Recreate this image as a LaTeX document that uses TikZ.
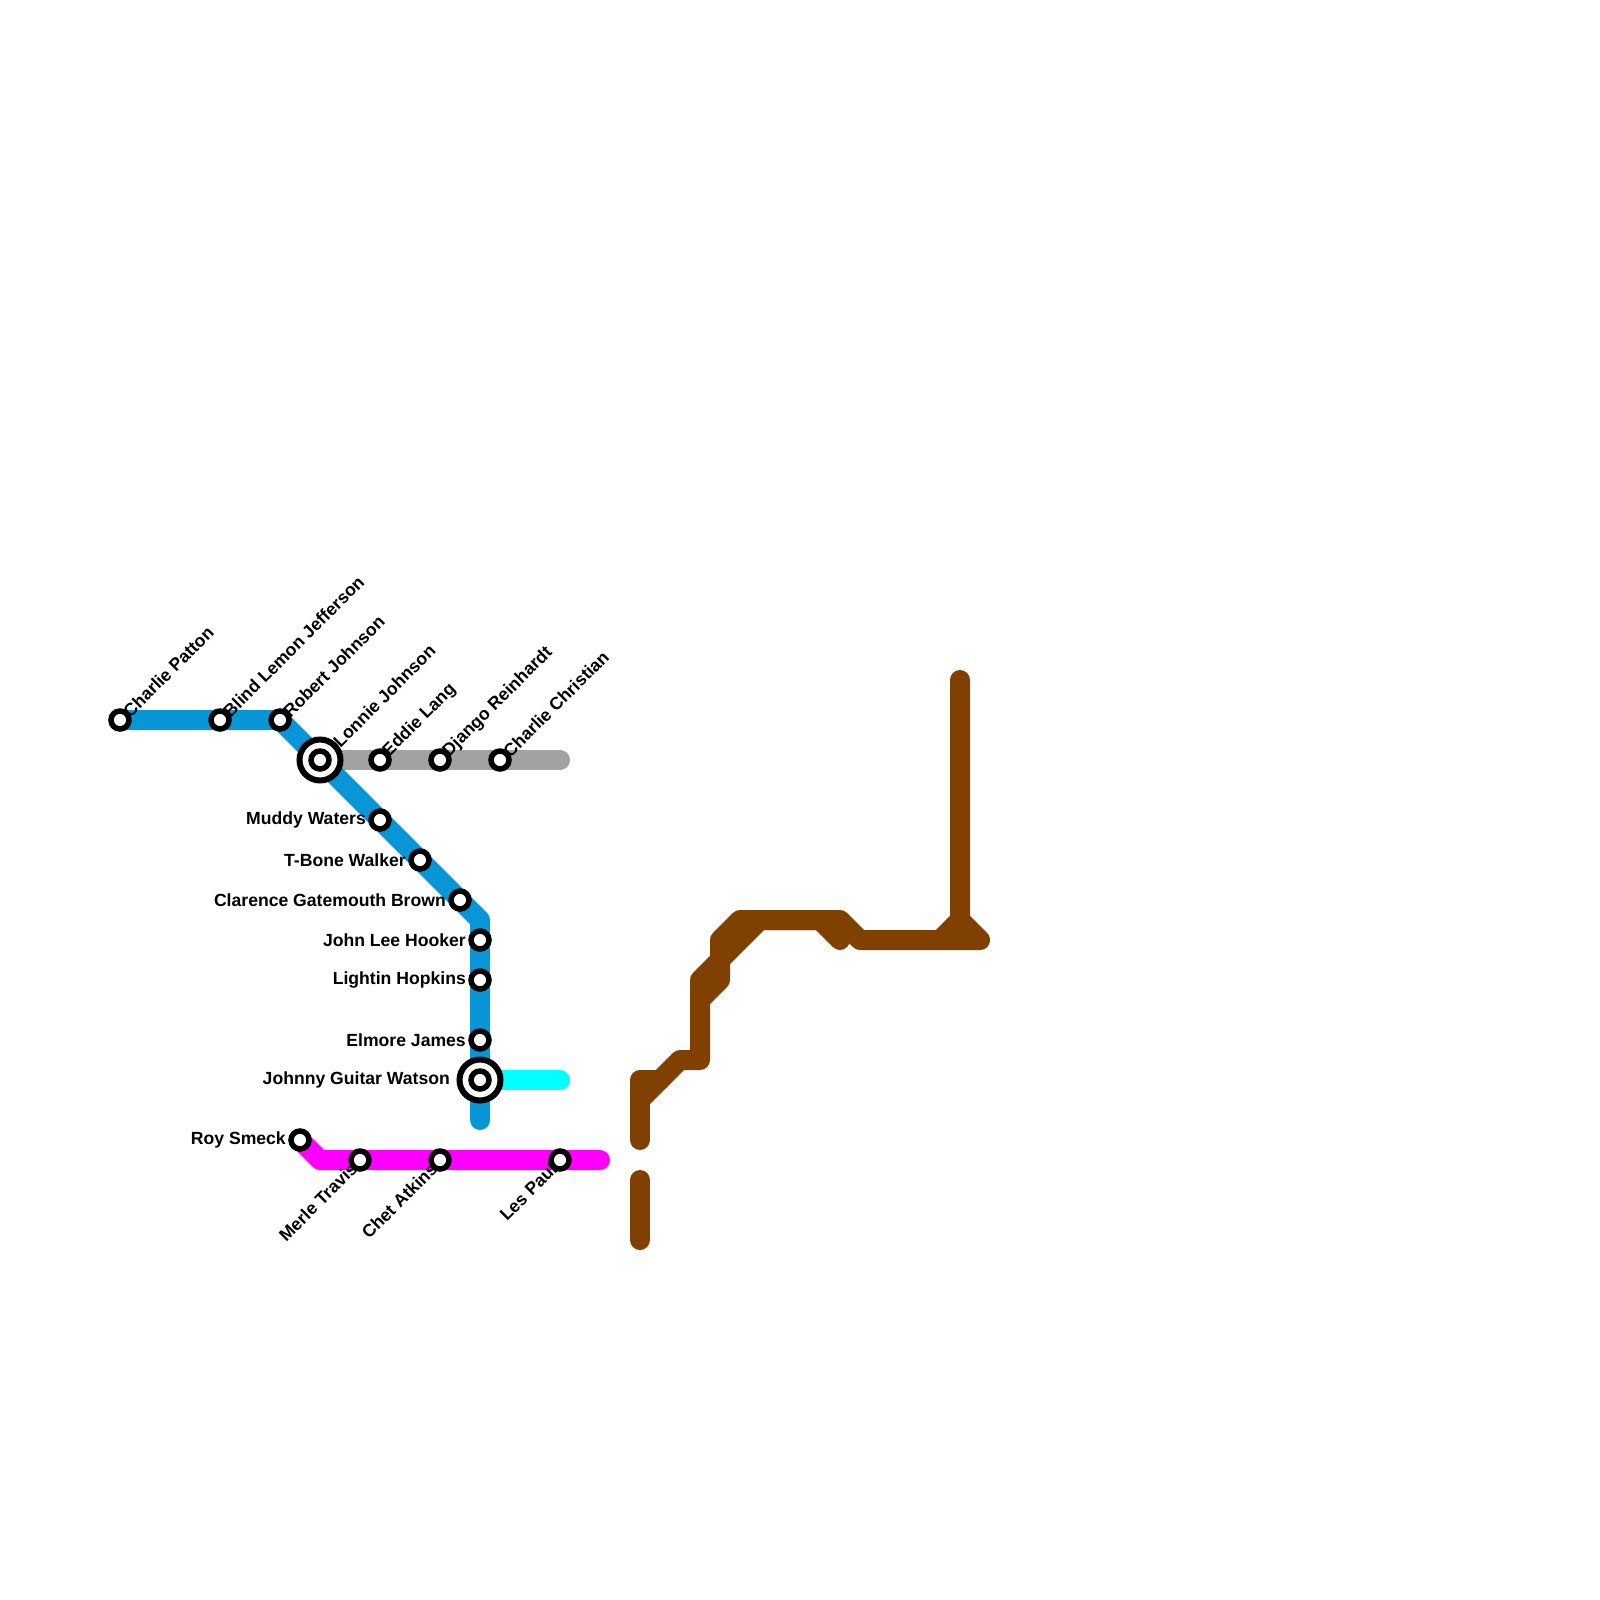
\documentclass[tikz,border=0pt]{standalone}
\usepackage{fontspec}
\setmainfont{Liberation Sans}
\usepackage{xcolor}
\definecolor{azulLine}{RGB}{8, 150, 215}
\definecolor{grisLine}{RGB}{162, 162, 162}
\definecolor{cianLine}{RGB}{0, 255, 255}
\definecolor{rosaLine}{RGB}{255, 0, 255}
\definecolor{cafeLine}{RGB}{128, 64, 0}
\usepackage{tikz}
\usetikzlibrary{positioning}
\tikzset{
  metro/.style={line width=20pt, line cap=round, line join=round},
  station/.style={circle, draw=black, fill=white, line width=5.5pt, minimum size=18pt, inner sep=0pt},
  hub/.style={circle, draw=black, fill=white, line width=6pt, minimum size=41pt, inner sep=0pt},
  tag/.style={font=\fontsize{17.6}{20}\selectfont\bfseries, inner sep=0pt, text=black}
}

\begin{document}
\begin{tikzpicture}[x=1pt, y=-1pt]
            \useasboundingbox (0,0) rectangle (1600,1600);

            % Estaciones
            \coordinate (blueBend) at (480,920);
            \coordinate (blueEnd) at (480,1120);
            \coordinate (grayEnd) at (560,760);
            \coordinate (cyanEnd) at (560,1080);
            \coordinate (pinkBend) at (320,1160);
            \coordinate (pinkEnd) at (600,1160);

            % Lineas
            \path (120,720) coordinate (patton) (220,720) coordinate (jefferson) (280,720) coordinate (robert)
                  (320,760) coordinate (lonnie) (480,1080) coordinate (watson) (300,1140) coordinate (smeck);
            \draw[metro, grisLine] (lonnie) -- (grayEnd);
            \draw[metro, cianLine] (watson) -- (cyanEnd);
            \draw[metro, azulLine] (patton) -- (robert) -- (blueBend) -- (blueEnd);
            \draw[metro, rosaLine] (smeck) -- (pinkBend) -- (pinkEnd);

            % Linea cafe
            \draw[metro, cafeLine] (640,1180) -- (640,1240);
            \draw[metro, cafeLine] (640,1140) -- (640,1080) -- (660,1080);
            \draw[metro, cafeLine] (640,1100) -- (680,1060) -- (700,1060) -- (700,980) -- (720,960) -- (720,940)
                  -- (740,920) -- (840,920) -- (860,940) -- (980,940) -- (960,920) -- (960,680);
            \draw[metro, cafeLine] (700,1000) -- (720,980) -- (720,960) -- (760,920) -- (820,920) -- (840,940);
            \draw[metro, cafeLine] (940,940) -- (960,920);

            % Nodos
            \node[station] (pattonSt) at (patton) {};
            \node[station] (jeffersonSt) at (jefferson) {};
            \node[station] (robertSt) at (robert) {};
            \node[hub] (lonnieHub) at (lonnie) {};
            \node[station] (lonnieSt) at (lonnie) {};
            \node[station] (eddie) at (380,760) {};
            \node[station] (django) at (440,760) {};
            \node[station] (christian) at (500,760) {};
            \node[station] (muddy) at (380,820) {};
            \node[station] (tbone) at (420,860) {};
            \node[station] (clarence) at (460,900) {};
            \node[station] (hooker) at (480,940) {};
            \node[station] (lightin) at (480,980) {};
            \node[station] (elmore) at (480,1040) {};
            \node[hub] (watsonHub) at (watson) {};
            \node[station] (watsonSt) at (watson) {};
            \node[station] (smeckSt) at (smeck) {};
            \node[station] (merle) at (360,1160) {};
            \node[station] (chet) at (440,1160) {};
            \node[station] (les) at (560,1160) {};

            % Etiquetas
            \node[tag, rotate=45, anchor=west] (pattonTag) at (126,714) {Charlie Patton};
            \node[tag, rotate=45, anchor=west] (jeffersonTag) at (226,714) {Blind Lemon Jefferson};
            \node[tag, rotate=45, anchor=west] (robertTag) at (286,714) {Robert Johnson};
            \node[tag, rotate=45, anchor=west] (lonnieTag) at (336,744) {Lonnie Johnson};
            \node[tag, rotate=45, anchor=west] (eddieTag) at (386,754) {Eddie Lang};
            \node[tag, rotate=45, anchor=west] (djangoTag) at (446,754) {Django Reinhardt};
            \node[tag, rotate=45, anchor=west] (christianTag) at (506,754) {Charlie Christian};
            \node[tag, anchor=east] (muddyTag) at (366,820) {Muddy Waters};
            \node[tag, anchor=east] (tboneTag) at (406,860) {T-Bone Walker};
            \node[tag, anchor=east] (clarenceTag) at (446,900) {Clarence Gatemouth Brown};
            \node[tag, anchor=east] (hookerTag) at (466,940) {John Lee Hooker};
            \node[tag, anchor=east] (lightinTag) at (466,980) {Lightin Hopkins};
            \node[tag, anchor=east] (elmoreTag) at (466,1040) {Elmore James};
            \node[tag, anchor=east] (watsonTag) at (450,1080) {Johnny Guitar Watson};
            \node[tag, anchor=east] (smeckTag) at (286,1140) {Roy Smeck};
            \node[tag, rotate=45, anchor=east] (merleTag) at (354,1166) {Merle Travis};
            \node[tag, rotate=45, anchor=east] (chetTag) at (434,1166) {Chet Atkins};
            \node[tag, rotate=45, anchor=east] (lesTag) at (554,1166) {Les Paul};
        \end{tikzpicture}
\end{document}
